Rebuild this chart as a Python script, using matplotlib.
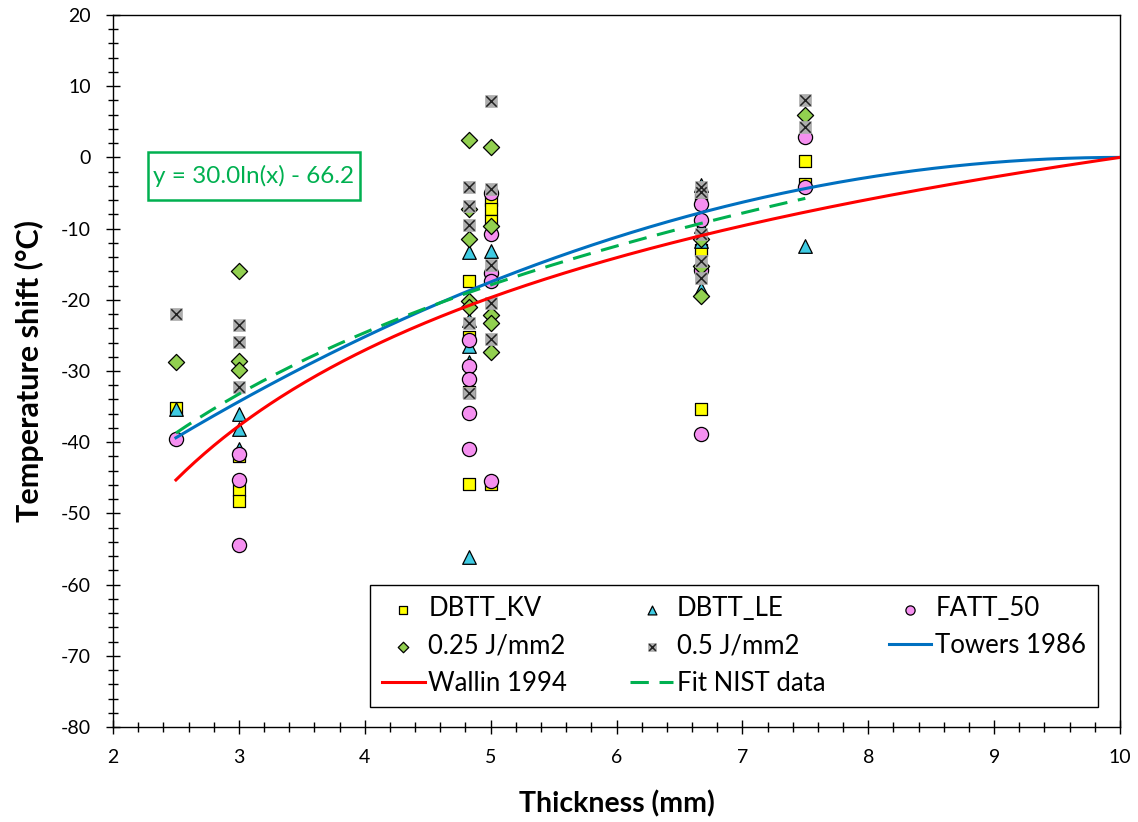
import numpy as np
import matplotlib
matplotlib.use("Agg")
import matplotlib.pyplot as plt
from matplotlib.ticker import MultipleLocator
from matplotlib.patches import Rectangle
from matplotlib.legend_handler import HandlerTuple

plt.rcParams['font.family'] = ['Lato', 'DejaVu Sans']
plt.rcParams['axes.unicode_minus'] = False

# ---- data (thickness mm, temperature shift °C) ----
kv_x = [2.5, 3, 3, 3, 4.83, 4.83, 4.83, 4.83, 5, 5, 5, 5, 6.67, 6.67, 6.67, 7.5, 7.5]
kv_y = [-35.2, -42.0, -46.7, -48.2, -17.3, -25.2, -33.0, -45.9, -6.0, -7.2, -9.0, -45.9,
        -5.3, -13.0, -35.4, -0.5, -3.8]

le_x = [2.5, 3, 3, 3, 4.83, 4.83, 4.83, 4.83, 4.83, 5, 6.67, 6.67, 6.67, 6.67, 7.5]
le_y = [-35.4, -36.1, -38.1, -41.0, -13.3, -22.9, -26.5, -28.7, -56.1, -13.2,
        -3.9, -9.7, -11.8, -18.5, -12.4]

fatt_x = [2.5, 3, 3, 3, 4.83, 4.83, 4.83, 4.83, 4.83, 5, 5, 5, 5, 5,
          6.67, 6.67, 6.67, 6.67, 7.5, 7.5]
fatt_y = [-39.5, -41.7, -45.3, -54.5, -25.7, -29.3, -31.1, -35.9, -41.0,
          -5.0, -10.7, -16.3, -17.4, -45.4, -6.5, -8.8, -15.8, -38.8, 2.8, -4.1]

j025_x = [2.5, 3, 3, 3, 4.83, 4.83, 4.83, 4.83, 4.83, 5, 5, 5, 5, 5, 6.67, 6.67, 6.67, 7.5]
j025_y = [-28.7, -16.0, -28.6, -29.8, 2.4, -7.3, -11.5, -20.1, -21.0,
          1.5, -9.7, -22.2, -23.3, -27.4, -11.5, -15.3, -19.5, 5.9]

j05_x = [2.5, 3, 3, 3, 4.83, 4.83, 4.83, 4.83, 4.83, 5, 5, 5, 5, 5,
         6.67, 6.67, 6.67, 6.67, 6.67, 7.5, 7.5]
j05_y = [-22.0, -23.5, -25.9, -32.3, -4.2, -6.8, -9.5, -23.3, -33.1,
         7.9, -4.4, -15.1, -20.4, -25.5, -4.1, -4.8, -10.8, -14.5, -16.9, 8.0, 4.2]

# ---- model curves ----
towers_coef = 0.7           # Towers 1986: dT = -0.7 (10 - B)^2
wallin_coef = 51.4          # Wallin 1994: dT = 51.4 ln(2 (B/10)^0.25 - 1)
fit_a, fit_b = 30.0, -66.2  # Fit NIST: y = 30.0 ln(x) - 66.2
curve_start, curve_end, fit_end = 2.5, 10.0, 7.5
eq_text = 'y = 30.0ln(x) - 66.2'

xc = np.linspace(curve_start, curve_end, 300)
towers_y = -towers_coef * (10 - xc) ** 2
wallin_y = wallin_coef * np.log(2 * (xc / 10) ** 0.25 - 1)
xf = np.linspace(curve_start, fit_end, 300)
fit_y = fit_a * np.log(xf) + fit_b

fig = plt.figure(figsize=(11.38, 8.22), dpi=100)
ax = fig.add_axes([113/1138, 1-727/822, (1120-113)/1138, (727-15)/822])

ec = 'black'
msz = 80
h_kv = ax.scatter(kv_x, kv_y, marker='s', s=msz, facecolor='#FFFF00', edgecolor=ec, linewidth=0.9, zorder=3)
h_le = ax.scatter(le_x, le_y, marker='^', s=msz*1.2, facecolor='#3FCBE3', edgecolor=ec, linewidth=0.9, zorder=4)
h_fa = ax.scatter(fatt_x, fatt_y, marker='o', s=msz*1.3, facecolor='#F590F0', edgecolor=ec, linewidth=0.9, zorder=5)
h_25 = ax.scatter(j025_x, j025_y, marker='D', s=msz*0.85, facecolor='#92D050', edgecolor=ec, linewidth=0.9, zorder=6)
h_5a = ax.scatter(j05_x, j05_y, marker='s', s=msz, facecolor='#ADADAD', edgecolor='#ADADAD', linewidth=0.5, zorder=7)
h_5b = ax.scatter(j05_x, j05_y, marker='x', s=msz*0.7, color='#222222', linewidth=1.1, zorder=8)

l_tw, = ax.plot(xc, towers_y, color='#0070C0', lw=2.2, zorder=9)
l_wa, = ax.plot(xc, wallin_y, color='#FF0000', lw=2.2, zorder=9)
l_fi, = ax.plot(xf, fit_y, color='#00B050', lw=2.2, ls=(0, (6, 3.5)), zorder=9)

ax.set_xlim(2, 10)
ax.set_ylim(-80, 20)
ax.xaxis.set_major_locator(MultipleLocator(1))
ax.xaxis.set_minor_locator(MultipleLocator(0.2))
ax.yaxis.set_major_locator(MultipleLocator(10))
ax.yaxis.set_minor_locator(MultipleLocator(2))
ax.tick_params(which='major', direction='inout', length=10, width=1, labelsize=14, pad=11)
ax.tick_params(which='minor', direction='inout', length=7, width=1)
for s in ax.spines.values():
    s.set_linewidth(1)

ax.set_xlabel('Thickness (mm)', fontsize=20.5, fontweight='bold', labelpad=17)
ax.set_ylabel('Temperature shift (°C)', fontsize=22, fontweight='bold', labelpad=12)

# equation box
bx0, bx1, by0, by1 = 2.278, 3.96, -5.98, 0.76
ax.add_patch(Rectangle((bx0, by0), bx1 - bx0, by1 - by0, facecolor='white',
                       edgecolor='#00B050', linewidth=1.8, zorder=10))
ax.text((bx0 + bx1) / 2, (by0 + by1) / 2, eq_text, color='#00B050', fontsize=17.5,
        va='center', ha='center', zorder=11)

handles = [h_kv, h_25, l_wa, h_le, (h_5a, h_5b), l_fi, h_fa, l_tw]
labels = ['DBTT_KV', '0.25 J/mm2', 'Wallin 1994', 'DBTT_LE', '0.5 J/mm2', 'Fit NIST data', 'FATT_50', 'Towers 1986']
leg = ax.legend(handles, labels, ncol=3, loc='lower right', bbox_to_anchor=(0.978, 0.028),
                fontsize=18.5, frameon=True, fancybox=False, edgecolor='black', framealpha=1,
                markerscale=0.65, handlelength=1.67, handletextpad=0.15, columnspacing=2.45,
                labelspacing=0.47, borderpad=0.45, borderaxespad=0,
                handler_map={tuple: HandlerTuple(ndivide=1, pad=0)})
leg.get_frame().set_linewidth(1.0)
leg.set_zorder(20)

fig.savefig('out.png', dpi=100)
